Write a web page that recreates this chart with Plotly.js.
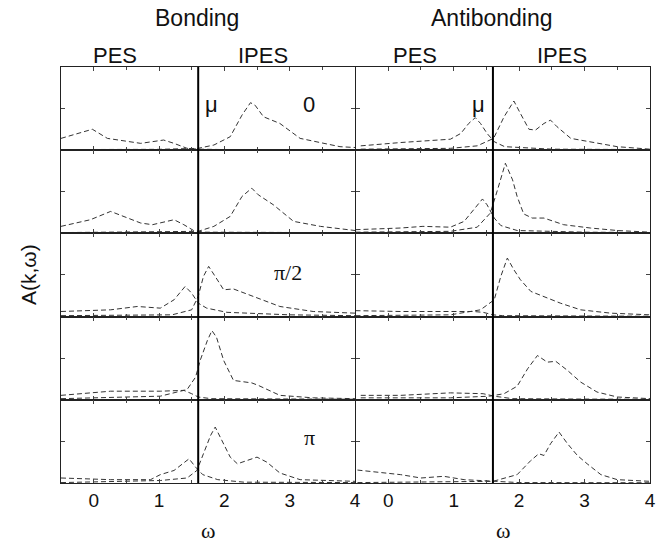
<!DOCTYPE html>
<html>
<head>
<meta charset="utf-8">
<script src="https://cdn.plot.ly/plotly-3.0.1.min.js"></script>
<style>html,body{margin:0;padding:0;background:#fff;}#plot{width:672px;height:543px;}</style>
</head>
<body>
<div id="plot"></div>
<script>
// ---- data (omega, spectral weight as fraction of panel height) ----
const mu = 1.6;
const xTickVals = [0, 1, 2, 3, 4];
const xTickText = ["0", "1", "2", "3", "4"];
const columnTitles = ["Bonding", "Antibonding"];
const momentumLabels = ["0", "", "π/2", "", "π"];

// Bonding, k = 0 (row 1)
const b0PES_w = [-0.5, -0.02, 0.21, 0.72, 1.07, 1.23, 1.43, 1.6, 2.0, 3.0, 4.0];
const b0PES_A = [0.14, 0.25, 0.14, 0.08, 0.12, 0.08, 0.02, 0.01, 0.005, 0.003, 0.002];
const b0IPES_w = [-0.5, 1.0, 1.6, 1.84, 2.09, 2.27, 2.40, 2.47, 2.6, 2.85, 3.16, 3.47, 3.77, 4.0];
const b0IPES_A = [0.005, 0.008, 0.02, 0.06, 0.16, 0.42, 0.57, 0.54, 0.40, 0.32, 0.14, 0.09, 0.04, 0.03];
// Bonding row 2
const b1PES_w = [-0.5, -0.05, 0.26, 0.46, 0.72, 0.9, 1.23, 1.38, 1.53, 1.7, 2.5, 4.0];
const b1PES_A = [0.08, 0.16, 0.26, 0.20, 0.12, 0.10, 0.16, 0.10, 0.03, 0.01, 0.005, 0.003];
const b1IPES_w = [-0.5, 1.0, 1.6, 1.84, 2.09, 2.27, 2.42, 2.52, 2.75, 3.06, 3.47, 4.0];
const b1IPES_A = [0.005, 0.01, 0.02, 0.08, 0.20, 0.44, 0.54, 0.46, 0.34, 0.14, 0.08, 0.03];
// Bonding row 3 (pi/2)
const b2PES_w = [-0.5, 0.26, 0.67, 1.02, 1.23, 1.40, 1.50, 1.6, 1.73, 2.04, 3.0, 4.0];
const b2PES_A = [0.06, 0.08, 0.12, 0.10, 0.20, 0.36, 0.28, 0.16, 0.10, 0.05, 0.02, 0.01];
const b2IPES_w = [-0.5, 1.2, 1.5, 1.6, 1.68, 1.76, 1.86, 1.99, 2.14, 2.45, 2.85, 3.36, 4.0];
const b2IPES_A = [0.01, 0.02, 0.08, 0.24, 0.48, 0.60, 0.48, 0.32, 0.33, 0.24, 0.12, 0.06, 0.04];
// Bonding row 4
const b3PES_w = [-0.5, 0.26, 1.02, 1.38, 1.5, 1.6, 1.8, 2.5, 4.0];
const b3PES_A = [0.05, 0.10, 0.10, 0.11, 0.07, 0.03, 0.01, 0.005, 0.003];
const b3IPES_w = [-0.5, 1.02, 1.43, 1.56, 1.63, 1.74, 1.81, 1.88, 1.99, 2.14, 2.42, 2.52, 2.85, 3.36, 4.0];
const b3IPES_A = [0.01, 0.04, 0.12, 0.27, 0.47, 0.71, 0.83, 0.75, 0.47, 0.23, 0.20, 0.17, 0.05, 0.02, 0.01];
// Bonding row 5 (pi)
const b4PES_w = [-0.5, 0.26, 0.87, 1.02, 1.23, 1.46, 1.56, 1.67, 1.9, 2.3, 4.0];
const b4PES_A = [0.06, 0.04, 0.04, 0.10, 0.15, 0.29, 0.19, 0.10, 0.04, 0.01, 0.005];
const b4IPES_w = [-0.5, 1.02, 1.43, 1.58, 1.68, 1.79, 1.86, 1.94, 2.09, 2.2, 2.35, 2.5, 2.65, 2.85, 3.16, 4.0];
const b4IPES_A = [0.005, 0.03, 0.06, 0.15, 0.35, 0.57, 0.67, 0.55, 0.31, 0.23, 0.27, 0.31, 0.25, 0.12, 0.04, 0.02];

// Antibonding row 1
const a0PES_w = [-0.42, 0.19, 0.95, 1.11, 1.23, 1.33, 1.41, 1.51, 1.62, 1.78, 2.5, 4.0];
const a0PES_A = [0.05, 0.09, 0.13, 0.20, 0.32, 0.39, 0.32, 0.20, 0.10, 0.04, 0.01, 0.005];
const a0IPES_w = [-0.42, 0.95, 1.36, 1.61, 1.77, 1.92, 2.02, 2.15, 2.25, 2.38, 2.48, 2.58, 2.79, 3.09, 3.5, 4.0];
const a0IPES_A = [0.01, 0.02, 0.05, 0.14, 0.40, 0.59, 0.44, 0.25, 0.24, 0.32, 0.36, 0.28, 0.14, 0.10, 0.04, 0.01];
// Antibonding row 2
const a1PES_w = [-0.5, 0.19, 0.53, 0.95, 1.16, 1.33, 1.44, 1.51, 1.62, 1.72, 1.97, 3.0, 4.0];
const a1PES_A = [0.04, 0.06, 0.08, 0.07, 0.14, 0.30, 0.41, 0.34, 0.18, 0.09, 0.03, 0.01, 0.005];
const a1IPES_w = [-0.5, 0.95, 1.36, 1.56, 1.67, 1.79, 1.9, 1.97, 2.07, 2.2, 2.38, 2.68, 3.09, 3.5, 4.0];
const a1IPES_A = [0.01, 0.02, 0.07, 0.24, 0.52, 0.84, 0.64, 0.44, 0.23, 0.18, 0.18, 0.10, 0.06, 0.03, 0.01];
// Antibonding row 3
const a2PES_w = [-0.5, 0.19, 0.95, 1.3, 1.45, 1.6, 1.75, 2.5, 4.0];
const a2PES_A = [0.07, 0.06, 0.06, 0.06, 0.05, 0.02, 0.01, 0.005, 0.003];
const a2IPES_w = [-0.5, 0.95, 1.41, 1.62, 1.72, 1.82, 1.92, 2.02, 2.18, 2.38, 2.63, 2.94, 3.4, 4.0];
const a2IPES_A = [0.01, 0.02, 0.08, 0.20, 0.48, 0.70, 0.56, 0.44, 0.30, 0.24, 0.16, 0.08, 0.04, 0.02];
// Antibonding row 4
const a3PES_w = [-0.42, 0.19, 0.95, 1.45, 1.62, 1.9, 3.0, 4.0];
const a3PES_A = [0.05, 0.05, 0.08, 0.07, 0.04, 0.01, 0.005, 0.003];
const a3IPES_w = [-0.42, 0.95, 1.55, 1.77, 1.97, 2.13, 2.28, 2.43, 2.56, 2.74, 2.94, 3.19, 3.5, 4.0];
const a3IPES_A = [0.02, 0.02, 0.04, 0.07, 0.16, 0.37, 0.53, 0.45, 0.46, 0.35, 0.21, 0.09, 0.03, 0.01];
// Antibonding row 5
const a4PES_w = [-0.47, -0.17, 0.19, 0.5, 0.85, 1.16, 1.57, 2.0, 4.0];
const a4PES_A = [0.155, 0.13, 0.10, 0.06, 0.08, 0.04, 0.02, 0.005, 0.003];
const a4IPES_w = [-0.47, 0.95, 1.6, 1.97, 2.18, 2.3, 2.38, 2.48, 2.61, 2.74, 2.89, 3.04, 3.25, 3.5, 4.0];
const a4IPES_A = [0.005, 0.02, 0.02, 0.10, 0.27, 0.35, 0.33, 0.47, 0.61, 0.47, 0.33, 0.23, 0.10, 0.04, 0.02];

// ---- assemble ----
const W = 672, H = 543;
const colPx = [[61, 355], [355.5, 650]];
const rowPx = [67, 150, 233, 316.5, 399.5, 483];

const panels = [
  [b0PES_w, b0PES_A, b0IPES_w, b0IPES_A],
  [b1PES_w, b1PES_A, b1IPES_w, b1IPES_A],
  [b2PES_w, b2PES_A, b2IPES_w, b2IPES_A],
  [b3PES_w, b3PES_A, b3IPES_w, b3IPES_A],
  [b4PES_w, b4PES_A, b4IPES_w, b4IPES_A],
  [a0PES_w, a0PES_A, a0IPES_w, a0IPES_A],
  [a1PES_w, a1PES_A, a1IPES_w, a1IPES_A],
  [a2PES_w, a2PES_A, a2IPES_w, a2IPES_A],
  [a3PES_w, a3PES_A, a3IPES_w, a3IPES_A],
  [a4PES_w, a4PES_A, a4IPES_w, a4IPES_A]
];

const traces = [];
const layout = {
  width: W, height: H,
  margin: {l: 0, r: 0, t: 0, b: 0},
  paper_bgcolor: '#fff', plot_bgcolor: '#fff',
  showlegend: false,
  font: {family: 'Liberation Sans, Arial, sans-serif', color: '#111'},
  shapes: [], annotations: []
};
const lineStyle = {color: '#333', width: 1, dash: '5px,3px'};
const SANS = 'Liberation Sans, Arial, sans-serif';
const SERIF = 'Liberation Serif, Times New Roman, serif';

function label(xref, yref, x, y, text, size, family, angle) {
  layout.annotations.push({xref: xref, yref: yref, x: x, y: y, text: text, showarrow: false,
    xanchor: 'center', yanchor: 'middle', textangle: angle || 0,
    font: {size: size, family: family || SANS, color: '#111'}});
}

panels.forEach((p, i) => {
  const col = Math.floor(i / 5), row = i % 5, n = i + 1;
  const xs = n === 1 ? 'x' : 'x' + n, ys = n === 1 ? 'y' : 'y' + n;
  const xk = n === 1 ? 'xaxis' : 'xaxis' + n, yk = n === 1 ? 'yaxis' : 'yaxis' + n;
  traces.push({x: p[0], y: p[1], xaxis: xs, yaxis: ys, mode: 'lines', line: lineStyle, hoverinfo: 'skip'});
  traces.push({x: p[2], y: p[3], xaxis: xs, yaxis: ys, mode: 'lines', line: lineStyle, hoverinfo: 'skip'});
  layout[xk] = {
    domain: [colPx[col][0] / W, colPx[col][1] / W], anchor: ys, range: [-0.5, 4],
    showline: true, mirror: 'ticks', linecolor: '#222', linewidth: 1,
    ticks: 'inside', ticklen: 4, tickcolor: '#444', tickvals: xTickVals, ticktext: xTickText,
    showticklabels: row === 4, tickfont: {size: 19, color: '#111', family: SANS},
    minor: {dtick: 0.5, tick0: 0, ticks: 'inside', ticklen: 3, tickcolor: '#444'},
    showgrid: false, zeroline: false, fixedrange: true
  };
  layout[yk] = {
    domain: [1 - rowPx[row + 1] / H, 1 - rowPx[row] / H], anchor: xs, range: [0, 1],
    showline: true, mirror: 'ticks', linecolor: '#222', linewidth: 1,
    ticks: 'inside', ticklen: 4, tickcolor: '#444', tickvals: [0.5], showticklabels: false,
    showgrid: false, zeroline: false, fixedrange: true
  };
  if (row === 0) {
    layout.shapes.push({type: 'line', xref: xs, yref: 'paper', x0: mu, x1: mu,
      y0: 1 - rowPx[5] / H, y1: 1 - rowPx[0] / H, line: {color: '#000', width: 2}});
    label(xs, ys, col === 0 ? mu + 0.2 : mu - 0.22, 0.55, 'μ', 22, SANS);
  }
  if (row === 4) {
    label(xs, 'paper', 1.75, 1 - 530 / H, 'ω', 22, SERIF);
  }
  if (col === 0 && momentumLabels[row]) {
    label(xs, ys, row === 2 ? 2.98 : 3.3, row === 0 ? 0.55 : (row === 4 ? 0.55 : 0.53), momentumLabels[row], 22, row === 0 ? SANS : SERIF);
  }
});

// column titles and PES / IPES headers
label('paper', 'paper', 197 / W, 1 - 18 / H, columnTitles[0], 23);
label('paper', 'paper', 492 / W, 1 - 18 / H, columnTitles[1], 23);
[[115, 'PES'], [263, 'IPES'], [415, 'PES'], [562, 'IPES']].forEach(h => {
  label('paper', 'paper', h[0] / W, 1 - 56 / H, h[1], 22);
});
label('paper', 'paper', 28 / W, 1 - 275 / H, 'A(k,ω)', 21, SANS, -90);

Plotly.newPlot('plot', traces, layout, {staticPlot: true, displayModeBar: false});
</script>
</body>
</html>
